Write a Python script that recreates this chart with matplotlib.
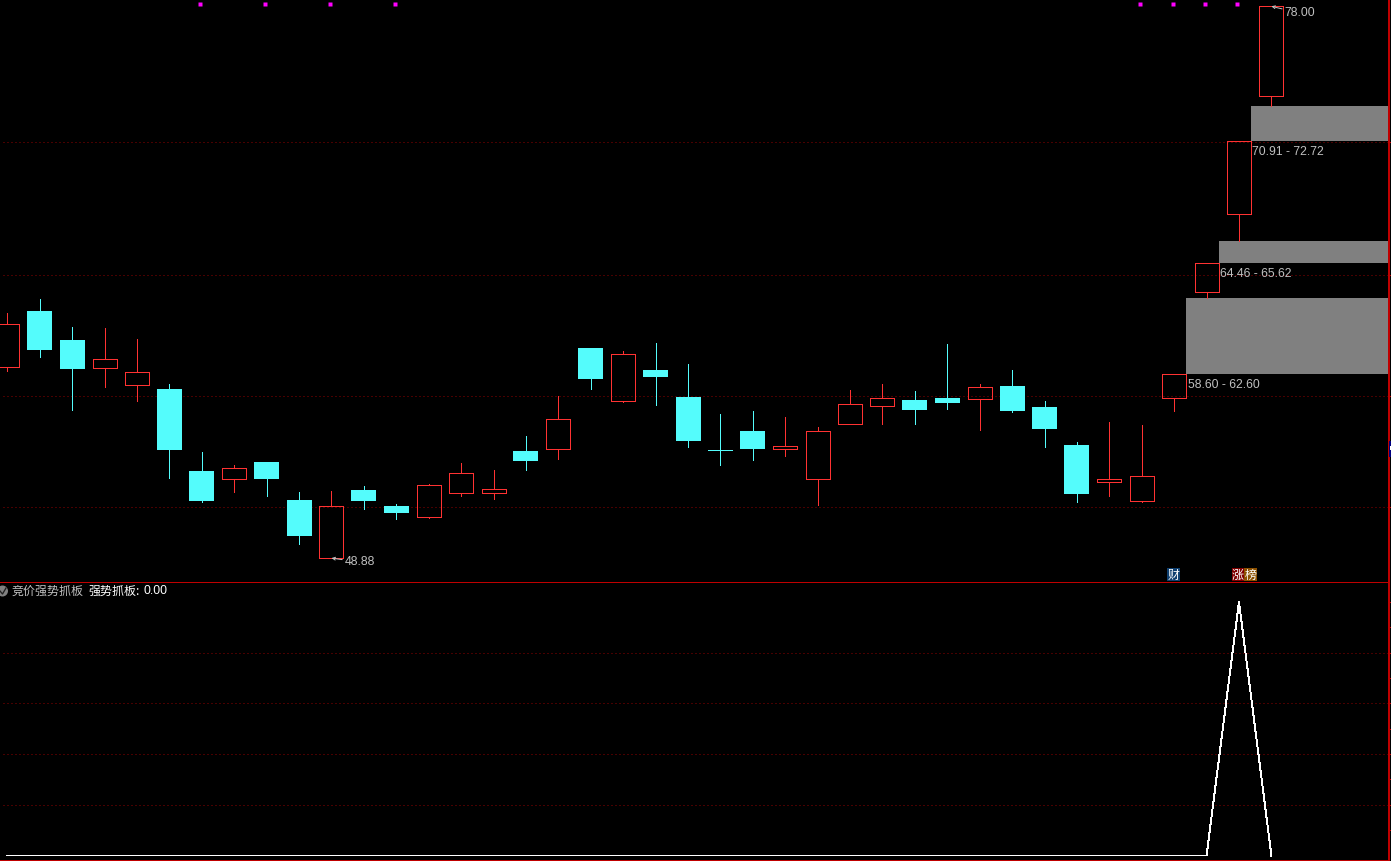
import numpy as np
import matplotlib
matplotlib.use('Agg')
import matplotlib.pyplot as plt
from matplotlib.patches import Rectangle, Circle

W, H = 1391, 861
CJK = ['Noto Sans CJK SC', 'DejaVu Sans']

opens = [58.96, 61.92, 60.39, 58.92, 58.02, 57.80, 53.47, 53.07, 53.95, 51.95,
         48.88, 52.47, 51.63, 51.07, 52.33, 52.33, 54.53, 54.65, 59.96, 57.19,
         58.81, 57.38, 54.58, 55.59, 54.62, 53.07, 55.97, 56.92, 57.23, 57.33,
         57.29, 57.97, 56.86, 54.85, 52.91, 51.91, 57.35, 62.94, 67.02, 73.28]
closes = [61.23, 59.86, 58.85, 59.37, 58.68, 54.58, 51.90, 53.62, 53.05, 50.05,
          51.62, 51.90, 51.26, 52.72, 53.35, 52.51, 54.00, 56.21, 58.34, 59.63,
          58.44, 55.06, 54.55, 54.64, 54.78, 55.57, 57.00, 57.32, 56.70, 57.07,
          57.90, 56.64, 55.69, 52.26, 53.03, 53.19, 58.60, 64.46, 70.91, 78.00]
highs = [61.83, 62.55, 61.07, 61.02, 60.44, 58.06, 54.48, 53.79, 53.95, 52.36,
         52.42, 52.68, 51.74, 52.79, 53.90, 53.53, 55.32, 57.44, 59.96, 59.81,
         60.23, 59.13, 56.49, 56.64, 56.33, 55.80, 57.75, 58.07, 57.70, 60.18,
         58.07, 58.81, 57.17, 55.01, 56.06, 55.90, 58.60, 64.46, 70.91, 78.00]
lows = [58.76, 59.50, 56.71, 57.90, 57.19, 53.12, 51.84, 52.38, 52.17, 49.64,
        48.88, 51.49, 50.96, 51.01, 52.15, 52.01, 53.54, 54.12, 57.81, 57.14,
        56.96, 54.74, 53.81, 54.05, 54.28, 51.70, 55.97, 55.97, 55.97, 56.77,
        55.66, 56.61, 54.76, 51.86, 52.17, 51.86, 56.66, 62.60, 65.62, 72.72]

# gaps: start candle, low, high
zone_start = [36, 37, 38]
zone_low = [58.60, 64.46, 70.91]
zone_high = [62.60, 65.62, 72.72]

price_grid = [70.84, 63.82, 57.43, 51.58]
signal_days = [6, 8, 10, 12, 35, 36, 37, 38]
indicator = [0] * 38 + [1, 0]
ind_grid = [0.2, 0.4, 0.6, 0.8]
ind_ticks = [0.1, 0.2, 0.3, 0.4, 0.5, 0.6, 0.7, 0.8, 0.9, 1.0]

RED = '#ff3232'
CYAN = '#54fcfc'
BORDER = '#c00000'
GRID = '#900000'
LABEL = '#c0c0c0'
px = 0.72  # one pixel in points
step = 32.41
days = np.arange(len(opens))
body = 25 / step

plt.rcParams['font.family'] = ['Liberation Sans', 'DejaVu Sans']
fig = plt.figure(figsize=(W / 100, H / 100), dpi=100, facecolor='black')


def panel(top, bottom):
    ax = fig.add_axes([0, 1 - bottom / H, 1389 / W, (bottom - top) / H], facecolor='black')
    ax.set_xlim(-7.4 / step, (1389 - 7.4) / step)
    ax.set_xticks([])
    for s in ['top', 'left', 'right']:
        ax.spines[s].set_visible(False)
    ax.spines['bottom'].set_color(BORDER)
    ax.spines['bottom'].set_linewidth(px)
    ax.spines['bottom'].set_antialiased(False)
    ax.yaxis.tick_right()
    ax.tick_params(axis='y', length=2 * px, width=px, color=BORDER, labelright=False)
    return ax


def dotted(ax, levels):
    for lev in levels:
        ax.axhline(lev, xmin=3 / 1389, color=GRID, lw=px, ls=(0, (1, 3)), zorder=1, snap=True)


ax = panel(0, 582)
ax.set_zorder(3)
ax.set_ylim(78.332 - 582 * 0.05277, 78.332)
ax.set_yticks(price_grid)
dotted(ax, price_grid)

for i in days:
    up = closes[i] > opens[i]
    top, bot = max(opens[i], closes[i]), min(opens[i], closes[i])
    c = RED if up else CYAN
    ax.vlines(i, top, highs[i], color=c, lw=px * 0.9, zorder=3, antialiased=False)
    ax.vlines(i, lows[i], bot, color=c, lw=px * 0.9, zorder=3, antialiased=False)
    if up:
        ax.add_patch(Rectangle((i - 12 / step, bot), 24 / step, top - bot, fill=False,
                               edgecolor=c, lw=px * 0.9, zorder=3, antialiased=False))
    else:
        ax.add_patch(Rectangle((i - body / 2, bot), body, max(top - bot, 0.04), facecolor=c,
                               edgecolor='none', zorder=3, antialiased=False))

xr = ax.get_xlim()[1]
for s, lo, hi in zip(zone_start, zone_low, zone_high):
    ax.add_patch(Rectangle((s + 12 / step, lo), xr - s - 12 / step, hi - lo,
                           facecolor='#808080', edgecolor='none', zorder=2, antialiased=False))
    ax.annotate('%.2f - %.2f' % (lo, hi), (s + 12 / step, lo), xytext=(1.5 * px, -11.5 * px),
                textcoords='offset points', color=LABEL, fontsize=8.8, va='center', ha='left')

# highest and lowest price labels
ax.annotate('78.00', (39, 78.00), xytext=(13.5 * px, -7 * px), textcoords='offset points',
            color=LABEL, fontsize=8.8, va='center', ha='left',
            arrowprops=dict(arrowstyle='->', color=LABEL, lw=px, shrinkA=0, shrinkB=0,
                            mutation_scale=5))
ax.annotate('48.88', (10, 48.88), xytext=(13.5 * px, -4 * px), textcoords='offset points',
            color=LABEL, fontsize=8.8, va='center', ha='left',
            arrowprops=dict(arrowstyle='->', color=LABEL, lw=px, shrinkA=0, shrinkB=0,
                            mutation_scale=5))

# magenta signal marks along the top edge
ax.plot(np.array(signal_days) - 1.5 / step, [78.332 - 4.3 * 0.05277] * len(signal_days),
        ls='none', marker='s', ms=3.6 * px, mfc='#ff00ff', mec='none', clip_on=False, zorder=4)

ax2 = panel(582, 860)
ax2.set_ylim(-4.5 / 253.5, 1 + 20 / 253.5)
ax2.set_yticks(ind_ticks)
dotted(ax2, ind_grid)
ax2.plot(days, indicator, color='white', lw=0.95 * px, zorder=3, antialiased=False)

# right border
fig.add_artist(Rectangle((1388, 1), 2, H - 1, transform=None, facecolor=BORDER, edgecolor='none', zorder=9))

# header text of the lower panel
fig.text(12 / W, 1 - 591 / H, '竞价强势抓板', color=LABEL, fontsize=8.64, family=CJK, va='center', zorder=10)
fig.text(88 / W, 1 - 591 / H, '强势抓板:', color='white', fontsize=8.64, family=CJK, va='center', zorder=10)
fig.text(143 / W, 1 - 591 / H, '0.00', color='white', fontsize=8.8, va='center', zorder=10)
fig.add_artist(Circle((2.5, H - 591), 5.5, transform=None, facecolor='#808080', edgecolor='none', zorder=9))
fig.add_artist(plt.Line2D([0, 2.5, 6], [H - 591, H - 594, H - 588], transform=None, color='#202020',
                          lw=1.3 * px, zorder=10))

# badges
for x0, x1, txt, bg in [(1167, 1180, '财', '#0f3f6f'), (1232, 1244, '涨', '#800000'), (1244, 1257, '榜', '#8b5000')]:
    fig.add_artist(Rectangle((x0, H - 581), x1 - x0, 13, transform=None, facecolor=bg, edgecolor='none', zorder=9))
    fig.text((x0 + x1) / 2 / W, 1 - 575 / H, txt, color='white', fontsize=8.64, family=CJK,
             va='center', ha='center', zorder=10)

# small marker on the right edge
fig.add_artist(Rectangle((1389, H - 457), 2, 16, transform=None, facecolor='#000080', edgecolor='none', zorder=10))
fig.add_artist(Rectangle((1390, H - 450), 1, 4, transform=None, facecolor='white', edgecolor='none', zorder=11))

fig.savefig('out.png', dpi=100, facecolor='black')
plt.close()
